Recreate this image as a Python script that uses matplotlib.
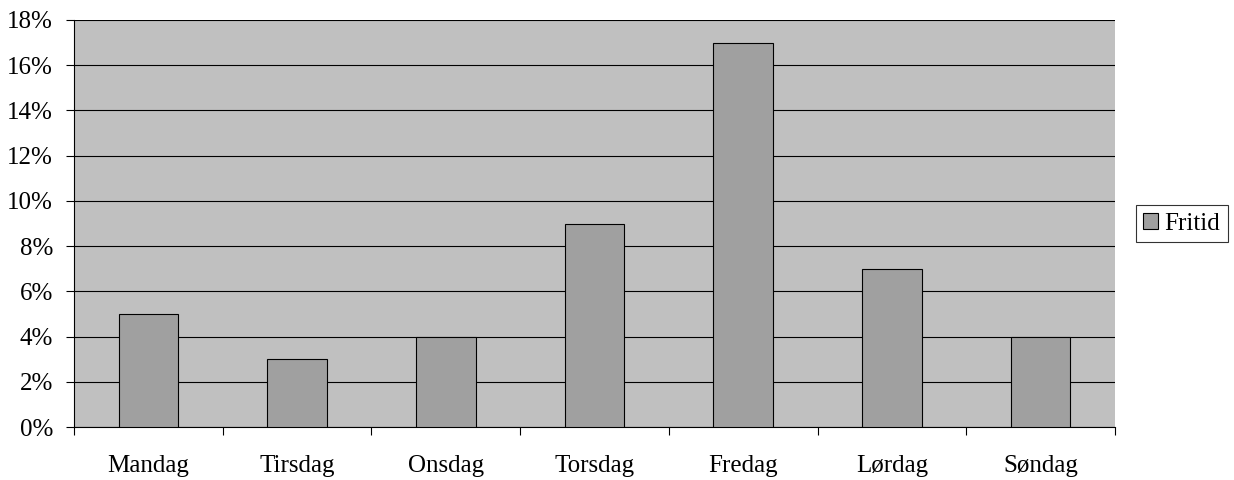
import matplotlib
matplotlib.use("Agg")
import matplotlib.pyplot as plt
from matplotlib.ticker import FuncFormatter, FixedLocator
import numpy as np

categories = ["Mandag", "Tirsdag", "Onsdag", "Torsdag", "Fredag", "Lørdag", "Søndag"]
values = [5, 3, 4, 9, 17, 7, 4]
series_name = "Fritid"

plt.rcParams['font.family'] = ['Liberation Serif', 'DejaVu Serif']

fig = plt.figure(figsize=(12.34, 4.80), dpi=100)
ax = fig.add_axes([74/1234, 1 - 427/480, (1115-74)/1234, (427-20)/480])
ax.set_facecolor('#C0C0C0')

x = np.arange(len(categories))
bars = ax.bar(x, values, width=0.4, color='#A0A0A0', edgecolor='black', linewidth=0.8,
              label=series_name, zorder=3)

ax.set_xlim(-0.5, len(categories) - 0.5)
ax.set_ylim(0, 18)
ax.set_yticks(np.arange(0, 19, 2))
ax.yaxis.set_major_formatter(FuncFormatter(lambda v, p: f"{int(v)}%"))
ax.yaxis.grid(True, color='black', linewidth=0.8, zorder=1)
ax.set_axisbelow(True)

ax.set_xticks(x)
ax.set_xticklabels(categories)
ax.xaxis.set_minor_locator(FixedLocator(np.arange(-0.5, len(categories), 1.0)))
ax.tick_params(axis='x', which='major', length=0, pad=20, labelsize=18)
ax.tick_params(axis='x', which='minor', length=6, width=0.8, direction='out')
ax.tick_params(axis='y', length=6, width=0.8, direction='out', labelsize=18, pad=9)

for s in ['top', 'right']:
    ax.spines[s].set_visible(False)
ax.spines['left'].set_linewidth(0.8)
ax.spines['bottom'].set_linewidth(0.8)

leg = ax.legend(loc='center left', bbox_to_anchor=(1.02, 0.5), frameon=True, fancybox=False,
                edgecolor='black', fontsize=18, handlelength=0.6, handleheight=0.6,
                handletextpad=0.25, borderpad=0.3, borderaxespad=0)
leg.get_frame().set_linewidth(0.8)

fig.savefig("out.png", dpi=100, facecolor='white')
